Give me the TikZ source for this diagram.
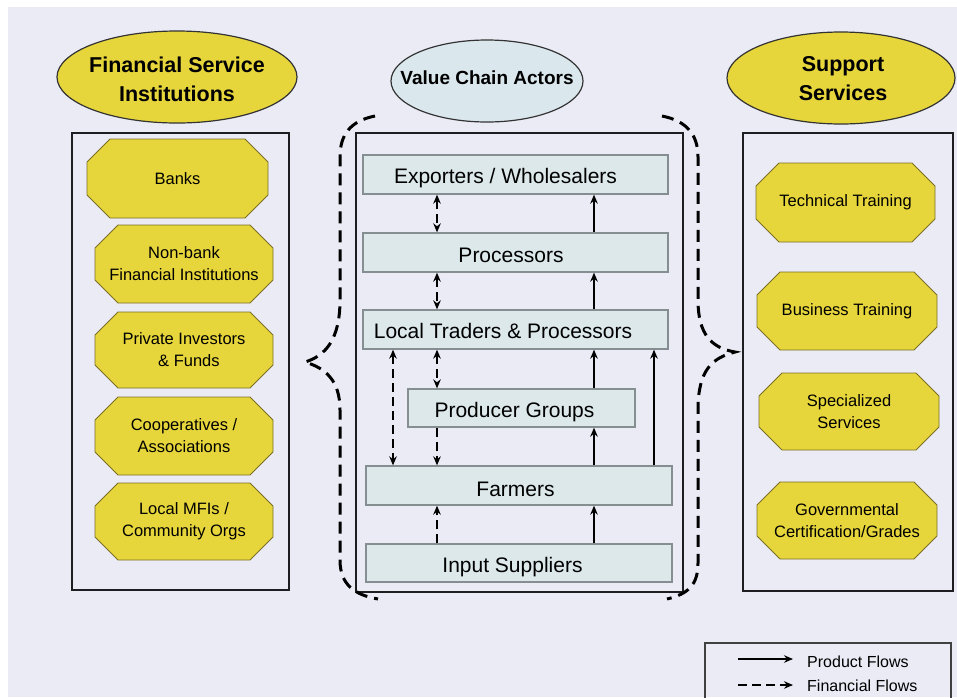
\documentclass[tikz,border=0pt]{standalone}
\usepackage{fontspec}
\setmainfont{Liberation Sans}
\usetikzlibrary{arrows.meta,shapes.geometric}

\definecolor{canvas}{HTML}{EBEBF6}
\definecolor{gold}{HTML}{E6D63C}
\definecolor{goldline}{HTML}{7A6F24}
\definecolor{panelline}{HTML}{1E1E22}
\definecolor{actorfill}{HTML}{DCE8EA}
\definecolor{actorline}{HTML}{858F92}
\definecolor{vcafill}{HTML}{DAE8EE}

% yellow octagon with its label: name, x1, y1, x2, y2, text
\newcommand{\octbox}[6]{%
  \filldraw[octo] ({#2+23},#3) -- ({#4-23},#3) -- (#4,{#3+23}) -- (#4,{#5-23})
    -- ({#4-23},#5) -- ({#2+23},#5) -- (#2,{#5-23}) -- (#2,{#3+23}) -- cycle;
  \node[octtext] (#1) at ({(#2+#4)/2},{(#3+#5)/2}) {#6};}

\begin{document}
\begin{tikzpicture}[x=1pt,y=-1pt,
  panel/.style={draw=panelline, line width=2.5pt},
  octo/.style={fill=gold, draw=goldline, line width=0.9pt},
  octtext/.style={font=\fontsize{16.5}{22}\selectfont, align=center, inner sep=0pt},
  titleshape/.style={ellipse, draw=black!80, line width=1.2pt, inner sep=0pt},
  titletext/.style={font=\bfseries\fontsize{21.5}{29}\selectfont, align=center, inner sep=0pt},
  actor/.style={rectangle, draw=actorline, fill=actorfill, line width=1.3pt, inner sep=0pt},
  actortext/.style={font=\fontsize{21}{25}\selectfont, inner sep=0pt, anchor=base},
  prod/.style={line width=2.5pt, -{Stealth[length=9pt,width=7.5pt]}},
  fin/.style={line width=2.6pt, dash pattern=on 9pt off 5pt, {Stealth[length=9pt,width=7.5pt]}-{Stealth[length=9pt,width=7.5pt]}},
  findown/.style={line width=2.6pt, dash pattern=on 9pt off 5pt, -{Stealth[length=9pt,width=7.5pt]}},
  brace/.style={line width=3pt, dash pattern=on 12pt off 7pt, line cap=butt},
  legendtext/.style={font=\fontsize{16}{19}\selectfont, anchor=base west, inner sep=0pt}]

\useasboundingbox (0,0) rectangle (957,697);
\fill[white] (0,0) rectangle (957,697);
\fill[canvas] (8,7) rectangle (957,697);

% ---- column titles ----
\node[titleshape, fill=gold, minimum width=240pt, minimum height=92pt] (fsi) at (177,77) {};
\node[titletext] (fsiT) at (177,79) {Financial Service\\Institutions};
\node[titleshape, fill=vcafill, minimum width=192pt, minimum height=82pt] (vca) at (487,81) {};
\node[titletext, font=\bfseries\fontsize{19}{23}\selectfont] (vcaT) at (487,78) {Value Chain Actors};
\node[titleshape, fill=gold, minimum width=228pt, minimum height=92pt] (sup) at (841,78) {};
\node[titletext] (supT) at (843,79) {Support\\Services};

% ---- three panels ----
\draw[panel] (72,133) rectangle (289,590);
\draw[panel] (356,133) rectangle (683,592);
\draw[panel] (743,133) rectangle (953,591);

% ---- financial service institutions ----
\octbox{banks}{87}{139}{268}{218}{Banks}
\octbox{nonbank}{95}{225}{273}{303}{Non-bank\\Financial Institutions}
\octbox{private}{95}{312}{273}{388}{Private Investors\\\hspace*{0.6em}\& Funds}
\octbox{coop}{95}{397}{273}{475}{Cooperatives /\\Associations}
\octbox{mfi}{95}{483}{273}{560}{Local MFIs /\\Community Orgs}

% ---- support services ----
\octbox{tech}{756}{163}{935}{242}{Technical Training}
\octbox{bus}{757}{272}{937}{350}{Business Training}
\octbox{spec}{759}{373}{939}{450}{Specialized\\Services}
\octbox{gov}{757}{482}{937}{559}{Governmental\\Certification/Grades}

% ---- value chain actors ----
\node[actor, minimum width=305pt, minimum height=39pt] (exp)  at (515.5,174.5) {};
\node[actor, minimum width=305pt, minimum height=39pt] (proc) at (515.5,252.5) {};
\node[actor, minimum width=305pt, minimum height=39pt] (lt)   at (515.5,329.5) {};
\node[actor, minimum width=227pt, minimum height=38pt] (pg)   at (521.5,408) {};
\node[actor, minimum width=306pt, minimum height=39pt] (farm) at (519,485.5) {};
\node[actor, minimum width=306pt, minimum height=38pt] (inp)  at (519,563) {};

\node[actortext] (expT)  at (505.5,183) {Exporters / Wholesalers};
\node[actortext] (procT) at (511,262) {Processors};
\node[actortext] (ltT)   at (503,338) {Local Traders \& Processors};
\node[actortext] (pgT)   at (514.5,417) {Producer Groups};
\node[actortext] (farmT) at (515.5,496) {Farmers};
\node[actortext] (inpT)  at (512.5,572) {Input Suppliers};

% flow columns
\coordinate (fa) at (393,0);
\coordinate (fb) at (437,0);
\coordinate (pa) at (594,0);
\coordinate (pb) at (654,0);

% financial flows
\draw[fin] (exp.south -| fb) -- (proc.north -| fb);
\draw[fin] (proc.south -| fb) -- (lt.north -| fb);
\draw[fin] (lt.south -| fb) -- (pg.north -| fb);
\draw[findown] (pg.south -| fb) -- (farm.north -| fb);
\draw[fin] (lt.south -| fa) -- (farm.north -| fa);
\draw[findown] (inp.north -| fb) -- (farm.south -| fb);

% product flows
\draw[prod] (proc.north -| pa) -- (exp.south -| pa);
\draw[prod] (lt.north -| pa) -- (proc.south -| pa);
\draw[prod] (pg.north -| pa) -- (lt.south -| pa);
\draw[prod] (farm.north -| pa) -- (pg.south -| pa);
\draw[prod] (inp.north -| pa) -- (farm.south -| pa);
\draw[prod] (farm.north -| pb) -- (lt.south -| pb);

% ---- dashed braces around the actors ----
\draw[brace] (375,116) .. controls (350,121) and (340,135) .. (340,157)
  -- (340,300) .. controls (340,340) and (325,356) .. (305,362)
  .. controls (325,368) and (340,380) .. (340,410)
  -- (340,560) .. controls (340,585) and (355,595) .. (378,599);
\draw[brace] (662,116) .. controls (687,121) and (698,135) .. (698,157)
  -- (698,300) .. controls (698,335) and (712,348) .. (735,352)
  .. controls (712,358) and (698,370) .. (698,410)
  -- (698,563) .. controls (698,585) and (688,594) .. (667,599);

% ---- legend ----
\draw[line width=1.8pt, draw=black!75] (705,643) rectangle (951,712);
\coordinate (l1a) at (738,659);
\coordinate (l1b) at (793,659);
\coordinate (l2a) at (738,685);
\coordinate (l2b) at (793,685);
\draw[prod] (l1a) -- (l1b);
\draw[findown] (l2a) -- (l2b);
\node[legendtext] (legP) at (807,667) {Product Flows};
\node[legendtext] (legF) at (807,691) {Financial Flows};
\end{tikzpicture}
\end{document}
